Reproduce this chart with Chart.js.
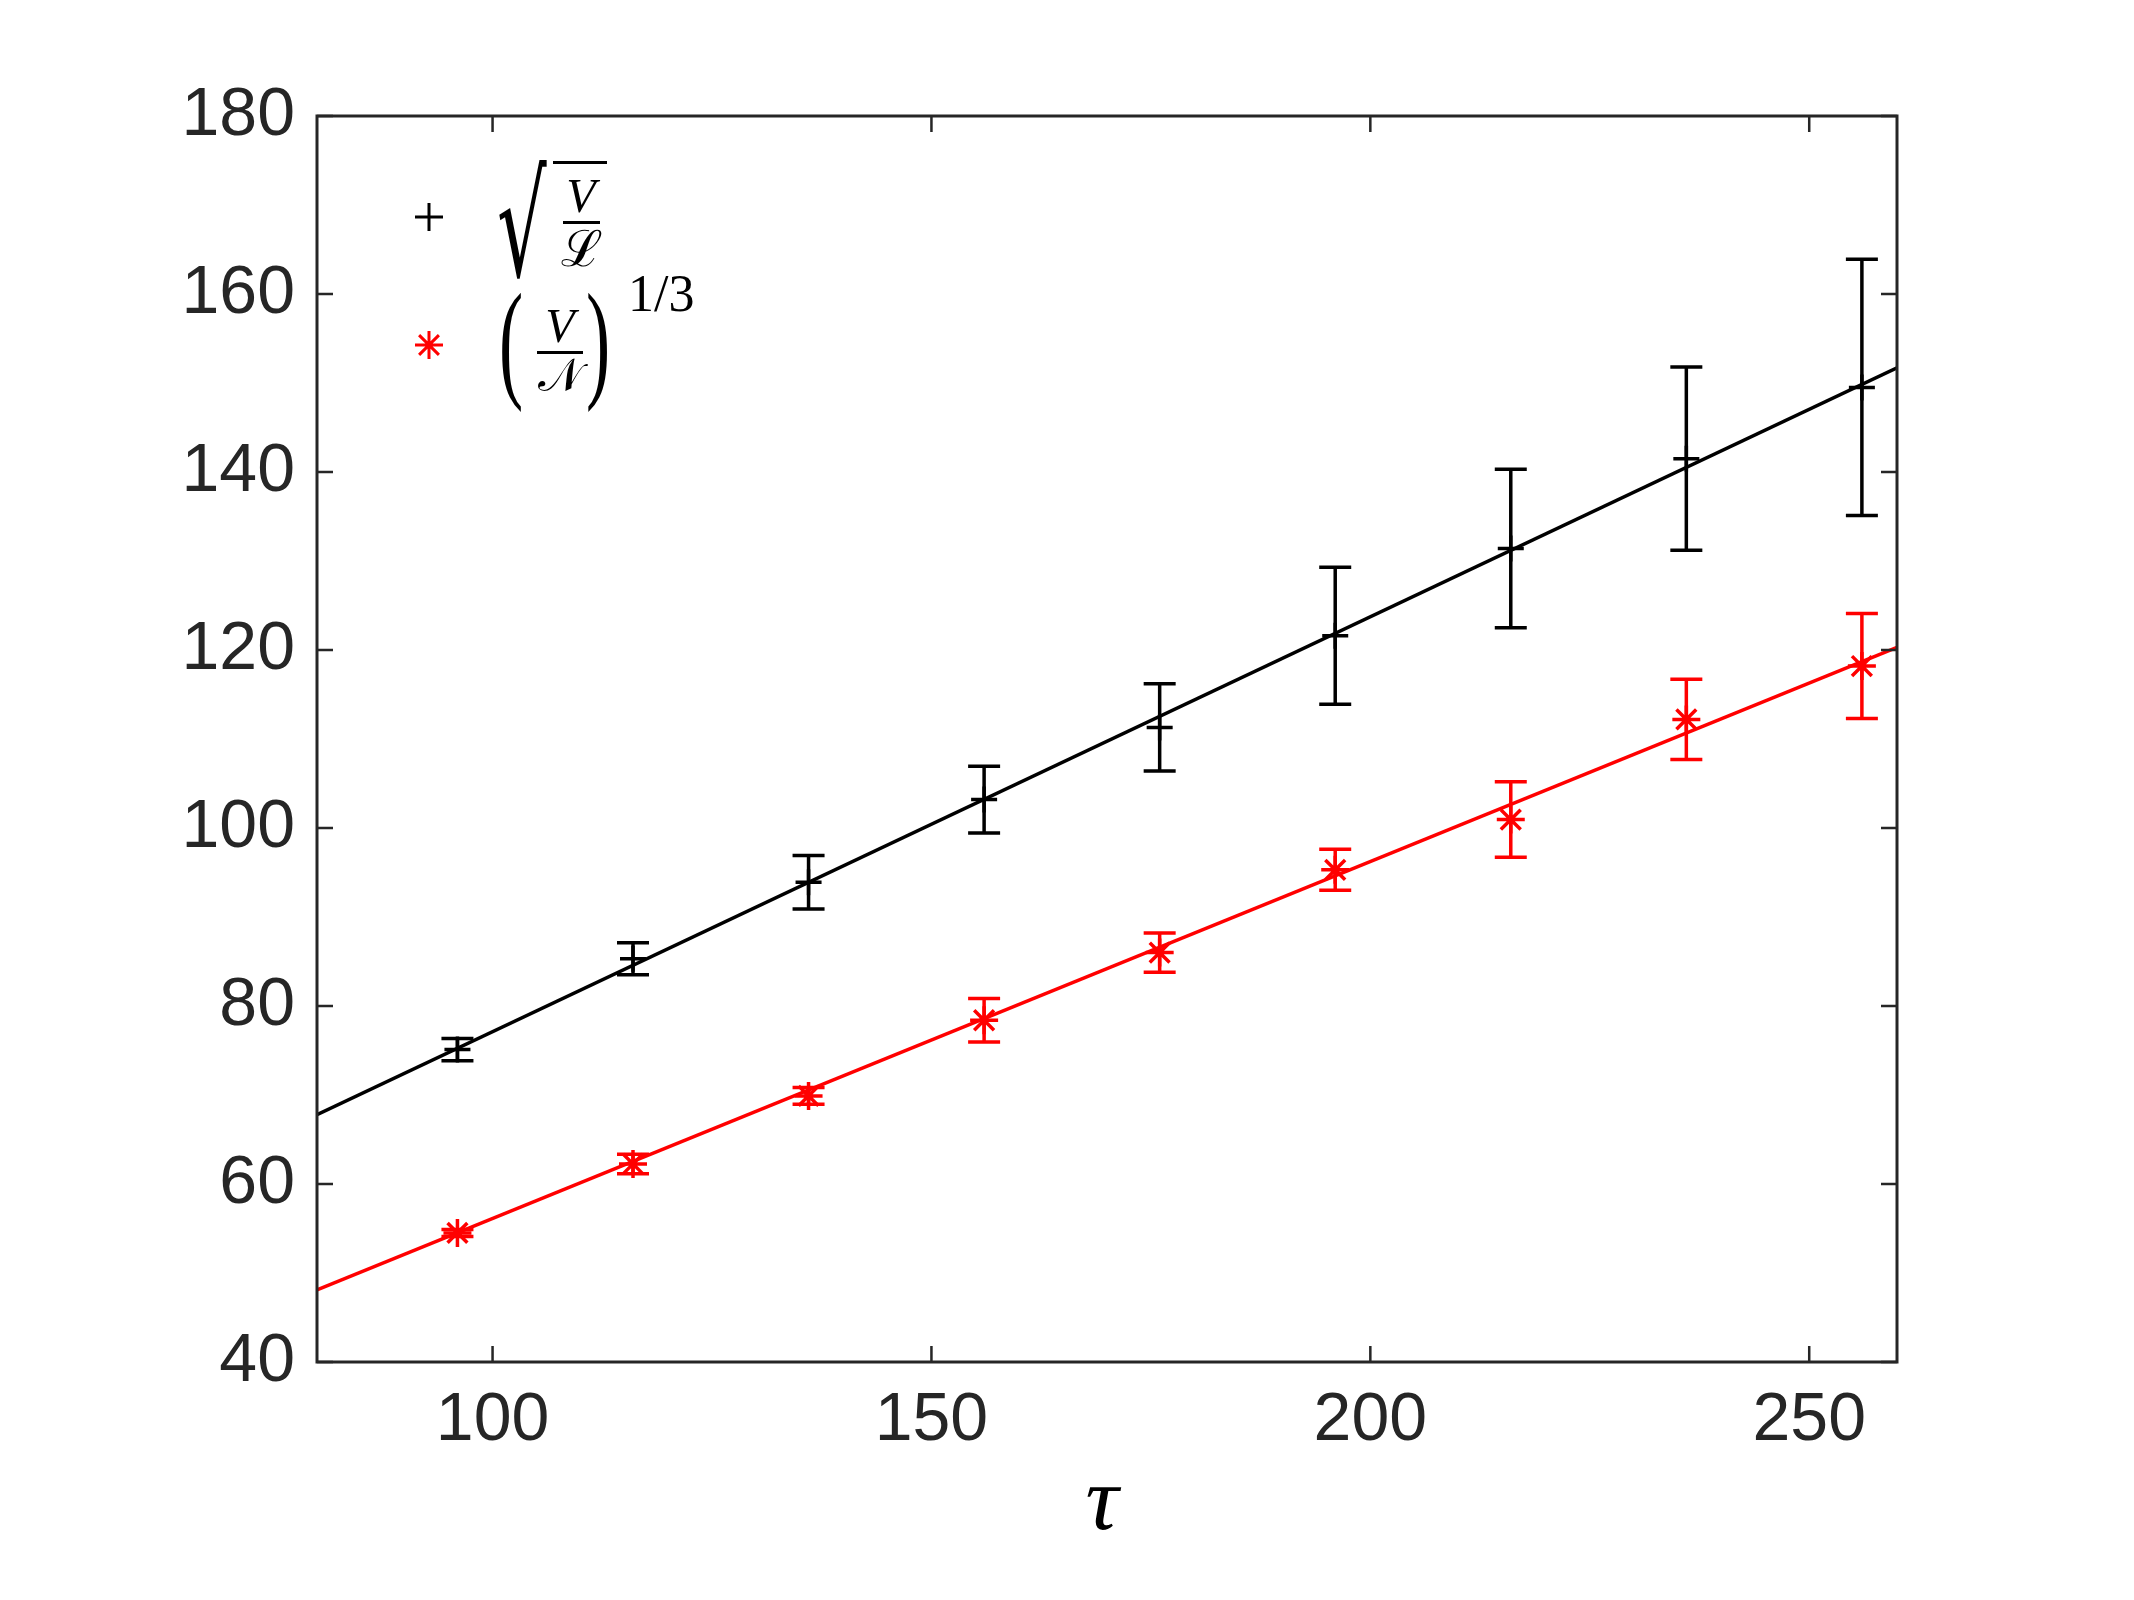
<!DOCTYPE html>
<html>
<head>
<meta charset="utf-8">
<script src="https://cdn.jsdelivr.net/npm/chart.js@4.4.1/dist/chart.umd.min.js"></script>
<style>
  body { margin: 0; background: #fff; }
  #wrap { position: relative; width: 2134px; height: 1600px; }
  .abs { position: absolute; line-height: 1; white-space: nowrap; color: #000;
         font-family: "Liberation Serif", "DejaVu Serif", serif; }
  .it { font-style: italic; }
  .bar { position: absolute; background: #000; }
</style>
</head>
<body>
<div id="wrap">
  <canvas id="chart" width="2134" height="1600"></canvas>

  <!-- x axis label -->
  <div class="abs it" style="left:1102px; top:1452px; font-size:92px; transform:translateX(-50%);">τ</div>

  <!-- legend entry 1: sqrt(V / L) -->
  <div class="abs" style="left:497px; top:155px; font-size:130px; font-family:'DejaVu Serif'; transform:scale(0.6, 1.1); transform-origin:0 0;">√</div>
  <div class="bar" style="left:553px; top:161px; width:54px; height:3px;"></div>
  <div class="abs it" style="left:581px; top:172px; font-size:48px; transform:translateX(-50%);">V</div>
  <div class="bar" style="left:563px; top:221px; width:37px; height:3px;"></div>
  <div class="abs" style="left:582px; top:224px; font-size:50px; font-family:'DejaVu Serif'; transform:translateX(-50%);">ℒ</div>

  <!-- legend entry 2: (V / N)^(1/3) -->
  <div class="abs" style="left:499px; top:274px; font-size:132px; transform:scaleX(0.55); transform-origin:0 0;">(</div>
  <div class="abs it" style="left:560px; top:302px; font-size:48px; transform:translateX(-50%);">V</div>
  <div class="bar" style="left:537px; top:351px; width:46px; height:3px;"></div>
  <div class="abs" style="left:560px; top:352px; font-size:46px; font-family:'DejaVu Serif'; transform:translateX(-50%);">𝒩</div>
  <div class="abs" style="left:586px; top:274px; font-size:132px; transform:scaleX(0.55); transform-origin:0 0;">)</div>
  <div class="abs" style="left:628px; top:268px; font-size:52px;">1/3</div>
</div>

<script>
// tau values
const xValues = [96, 116, 136, 156, 176, 196, 216, 236, 256];

// sqrt(V/L) series, black
const blackValues = [75.1, 85.3, 93.9, 103.2, 111.3, 121.6, 131.4, 141.5, 149.5];
const blackErrors = [1.25, 1.8, 3.0, 3.75, 4.9, 7.7, 8.9, 10.3, 14.4];

// (V/N)^(1/3) series, red
const redValues = [54.5, 62.25, 69.9, 78.4, 86.0, 95.3, 100.95, 112.2, 118.2];
const redErrors = [0.4, 1.1, 0.95, 2.45, 2.2, 2.3, 4.25, 4.5, 5.9];

// linear fits, value at each end of the x range
const fitX = [80, 260];
const blackFit = [67.8, 151.7];
const redFit = [48.1, 120.3];

// ticks
const xTicks = [100, 150, 200, 250];
const yTicks = [40, 60, 80, 100, 120, 140, 160, 180];

const axisColor = '#262626';

function toPoints(xs, ys) {
    return xs.map((x, i) => ({ x: x, y: ys[i] }));
}

// error bars drawn with the chart's own scales
const errorBars = {
    id: 'errorBars',
    beforeDatasetsDraw(chart) {
        const { ctx, scales: { x, y } } = chart;
        const sets = [
            [blackValues, blackErrors, '#000000'],
            [redValues, redErrors, '#ff0000']
        ];
        ctx.save();
        ctx.lineWidth = 3.5;
        sets.forEach(([vals, errs, color]) => {
            ctx.strokeStyle = color;
            vals.forEach((v, i) => {
                const px = x.getPixelForValue(xValues[i]);
                const top = y.getPixelForValue(v + errs[i]);
                const bot = y.getPixelForValue(v - errs[i]);
                const cap = 16;
                ctx.beginPath();
                ctx.moveTo(px, top); ctx.lineTo(px, bot);
                ctx.moveTo(px - cap, top); ctx.lineTo(px + cap, top);
                ctx.moveTo(px - cap, bot); ctx.lineTo(px + cap, bot);
                ctx.stroke();
            });
        });
        ctx.restore();
    }
};

// box around the plot with inward ticks, plus legend markers
const axesBox = {
    id: 'axesBox',
    afterDraw(chart) {
        const { ctx, chartArea: a, scales: { x, y } } = chart;
        ctx.save();
        ctx.strokeStyle = axisColor;
        ctx.lineWidth = 2.5;
        const len = 16;
        ctx.beginPath();
        xTicks.forEach(t => {
            const px = x.getPixelForValue(t);
            ctx.moveTo(px, a.bottom); ctx.lineTo(px, a.bottom - len);
            ctx.moveTo(px, a.top); ctx.lineTo(px, a.top + len);
        });
        yTicks.forEach(t => {
            const py = y.getPixelForValue(t);
            ctx.moveTo(a.left, py); ctx.lineTo(a.left + len, py);
            ctx.moveTo(a.right, py); ctx.lineTo(a.right - len, py);
        });
        ctx.stroke();
        ctx.lineWidth = 3;
        ctx.strokeRect(a.left, a.top, a.right - a.left, a.bottom - a.top);

        // legend symbols
        ctx.strokeStyle = '#000000';
        Chart.helpers.drawPoint(ctx, { pointStyle: 'cross', radius: 14, borderWidth: 3 }, 429, 217);
        ctx.strokeStyle = '#ff0000';
        Chart.helpers.drawPoint(ctx, { pointStyle: 'star', radius: 14, borderWidth: 3 }, 429, 345);
        ctx.restore();
    }
};

new Chart(document.getElementById('chart'), {
    type: 'scatter',
    data: {
        datasets: [
            {
                type: 'line',
                data: toPoints(fitX, blackFit),
                borderColor: '#000000',
                borderWidth: 3.5,
                pointRadius: 0
            },
            {
                type: 'line',
                data: toPoints(fitX, redFit),
                borderColor: '#ff0000',
                borderWidth: 3.5,
                pointRadius: 0
            },
            {
                data: toPoints(xValues, blackValues),
                pointStyle: 'cross',
                pointRadius: 13,
                borderColor: '#000000',
                borderWidth: 3.5
            },
            {
                data: toPoints(xValues, redValues),
                pointStyle: 'star',
                pointRadius: 14,
                borderColor: '#ff0000',
                borderWidth: 3.5
            }
        ]
    },
    options: {
        responsive: false,
        animation: false,
        devicePixelRatio: 1,
        layout: { padding: { top: 116, right: 237, bottom: 0, left: 0 } },
        plugins: {
            legend: { display: false },
            tooltip: { enabled: false }
        },
        scales: {
            x: {
                type: 'linear',
                min: 80,
                max: 260,
                afterBuildTicks: s => { s.ticks = xTicks.map(v => ({ value: v })); },
                afterFit: s => { s.height = 238; },
                grid: { display: false },
                border: { display: false },
                ticks: {
                    padding: 10,
                    color: axisColor,
                    font: { family: 'Liberation Sans', size: 68 }
                }
            },
            y: {
                min: 40,
                max: 180,
                afterBuildTicks: s => { s.ticks = yTicks.map(v => ({ value: v })); },
                afterFit: s => { s.width = 317; },
                grid: { display: false },
                border: { display: false },
                ticks: {
                    padding: 14,
                    color: axisColor,
                    font: { family: 'Liberation Sans', size: 68 }
                }
            }
        }
    },
    plugins: [errorBars, axesBox]
});
</script>
</body>
</html>
